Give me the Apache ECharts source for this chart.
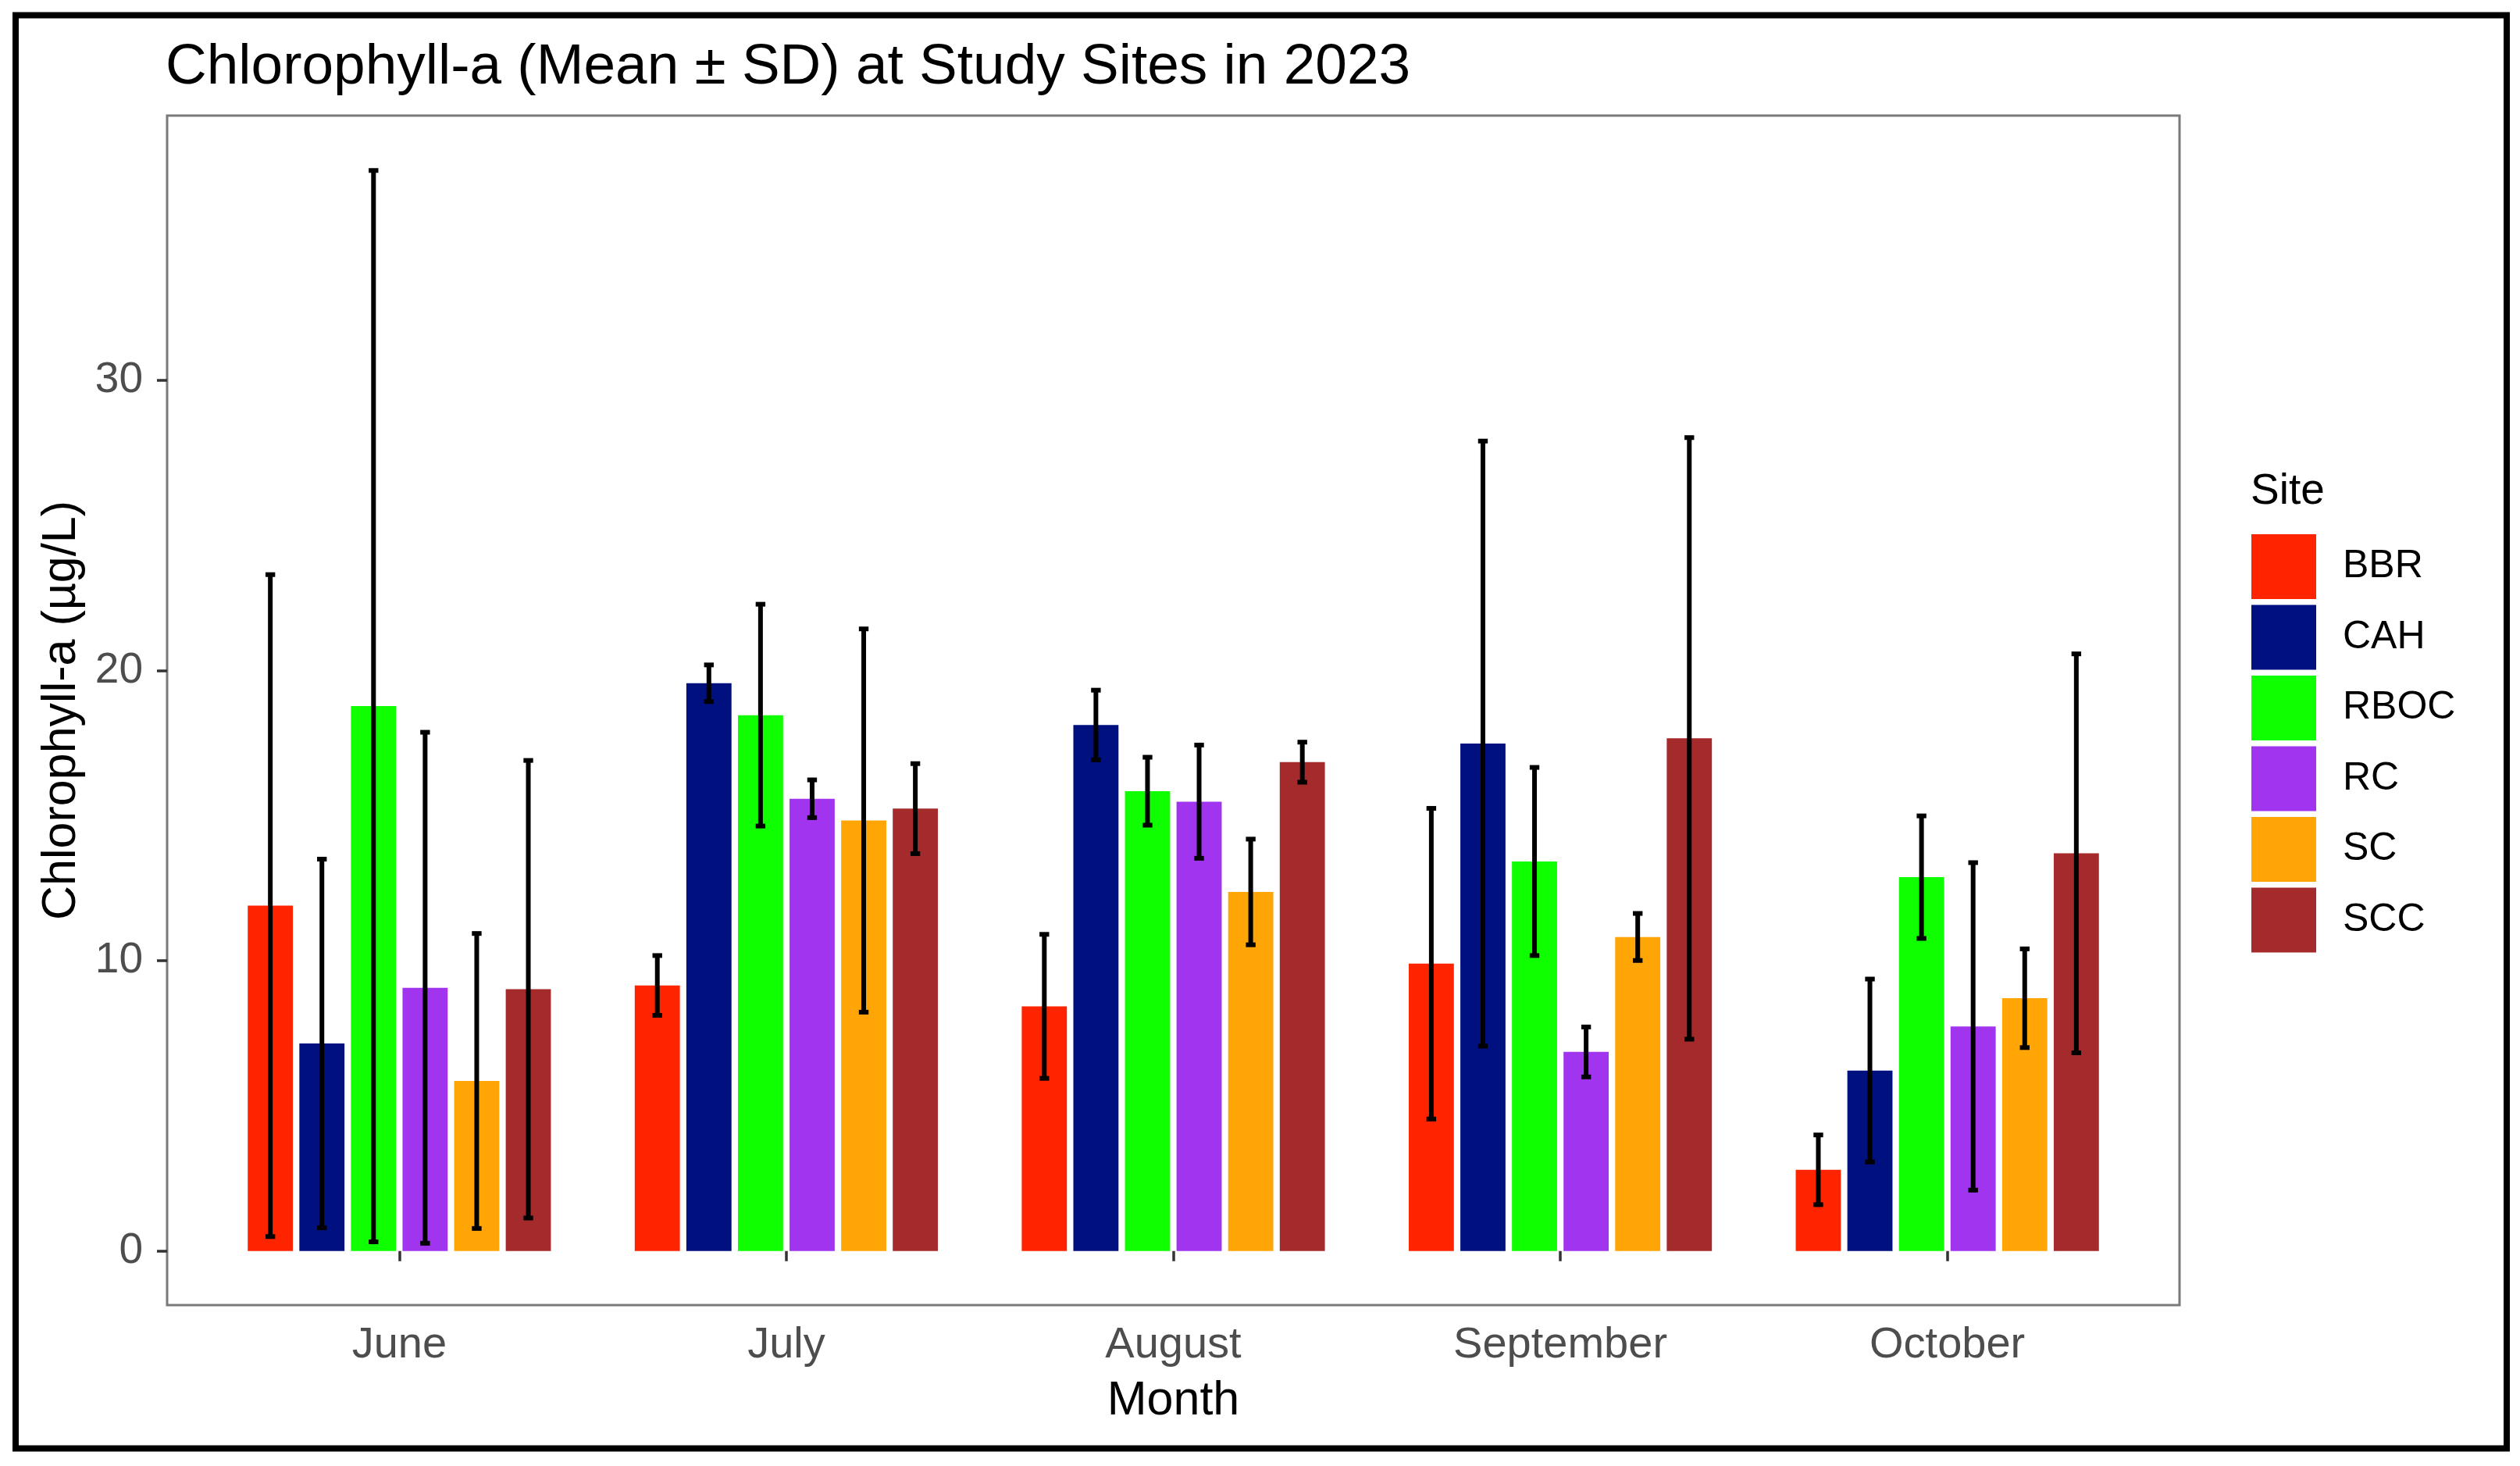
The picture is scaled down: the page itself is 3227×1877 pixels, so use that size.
<!DOCTYPE html>
<html>
<head>
<meta charset="utf-8">
<title>Chlorophyll-a at Study Sites 2023</title>
<script src="https://cdn.jsdelivr.net/npm/echarts@6/dist/echarts.min.js"></script>
<style>
  html, body { margin: 0; padding: 0; background: #fff; }
  #chart { width: 3227px; height: 1877px; }
</style>
</head>
<body>
<div id="chart"></div>
<script>
"use strict";

// data
const months = ["June", "July", "August", "September", "October"];
const sites = ["BBR", "CAH", "RBOC", "RC", "SC", "SCC"];
const siteColors = ["#FF2400", "#00117F", "#10FF00", "#A134EE", "#FFA505", "#A52A2C"];

const meanBBR  = [11.9, 9.15, 8.43, 9.9, 2.8];
const meanCAH  = [7.15, 19.56, 18.12, 17.48, 6.22];
const meanRBOC = [18.77, 18.46, 15.84, 13.42, 12.88];
const meanRC   = [9.07, 15.58, 15.48, 6.86, 7.74];
const meanSC   = [5.86, 14.83, 12.37, 10.82, 8.71];
const meanSCC  = [9.02, 15.24, 16.84, 17.66, 13.7];

const sdBBR  = [11.4, 1.03, 2.48, 5.35, 1.2];
const sdCAH  = [6.35, 0.63, 1.2, 10.42, 3.15];
const sdRBOC = [18.45, 3.82, 1.17, 3.24, 2.11];
const sdRC   = [8.8, 0.65, 1.95, 0.86, 5.64];
const sdSC   = [5.08, 6.6, 1.82, 0.81, 1.7];
const sdSCC  = [7.88, 1.55, 0.69, 10.36, 6.87];

const yTicks = [0, 10, 20, 30];

const means = [meanBBR, meanCAH, meanRBOC, meanRC, meanSC, meanSCC];
const sds = [sdBBR, sdCAH, sdRBOC, sdRC, sdSC, sdSCC];

const font = "Liberation Sans, Arial, Helvetica, sans-serif";

// panel box, ggplot style: categories sit at 1..n, panel runs 0.4 .. n+0.6
const panel = { left: 214, top: 148, width: 2577, height: 1523 };
const unit = panel.width / (months.length + 0.2);
const inner = { left: panel.left + 0.1 * unit, width: unit * months.length };

const dodge = 0.8;   // dodge width in band units
const barFrac = 0.7; // total bar width in band units

const barSeries = sites.map((site, i) => ({
  name: site,
  type: "bar",
  xAxisIndex: 0,
  yAxisIndex: 0,
  data: means[i],
  barWidth: (barFrac / sites.length * 100) + "%",
  barGap: ((dodge - barFrac) / barFrac * 100) + "%",
  itemStyle: { color: siteColors[i] },
  z: 2
}));

const errorSeries = sites.map((site, i) => ({
  name: site + " SD",
  type: "custom",
  xAxisIndex: 0,
  yAxisIndex: 0,
  z: 5,
  data: means[i].map((m, k) => [k, m - sds[i][k], m + sds[i][k]]),
  renderItem: (params, api) => {
    const k = api.value(0);
    const lo = api.coord([k, api.value(1)]);
    const hi = api.coord([k, api.value(2)]);
    const band = api.size([1, 0])[0];
    const cx = lo[0] + (i - (sites.length - 1) / 2) * band * dodge / sites.length;
    const half = band * 0.0125;
    const style = { stroke: "#000", lineWidth: 6 };
    return {
      type: "group",
      children: [
        { type: "line", shape: { x1: cx, y1: lo[1], x2: cx, y2: hi[1] }, style: style },
        { type: "line", shape: { x1: cx - half, y1: hi[1], x2: cx + half, y2: hi[1] }, style: style },
        { type: "line", shape: { x1: cx - half, y1: lo[1], x2: cx + half, y2: lo[1] }, style: style }
      ]
    };
  }
}));

const chart = echarts.init(document.getElementById("chart"), null, { renderer: "canvas" });

chart.setOption({
  animation: false,
  backgroundColor: "#fff",
  textStyle: { fontFamily: font },
  title: [
    {
      text: "Chlorophyll-a (Mean ± SD) at Study Sites in 2023",
      left: panel.left - 2,
      top: 50,
      padding: 0,
      textStyle: { fontFamily: font, fontSize: 73, fontWeight: "normal", color: "#000" }
    },
    {
      text: "Site",
      left: 2882,
      top: 602,
      padding: 0,
      textStyle: { fontFamily: font, fontSize: 55, fontWeight: "normal", color: "#000" }
    }
  ],
  legend: {
    data: sites,
    orient: "vertical",
    left: 2883,
    top: 684,
    padding: 0,
    icon: "rect",
    itemWidth: 83,
    itemHeight: 83,
    itemGap: 7.5,
    selectedMode: false,
    textStyle: { fontFamily: font, fontSize: 50, color: "#000", padding: [0, 0, 0, 29] }
  },
  grid: [
    {
      left: inner.left, top: panel.top, width: inner.width, height: panel.height,
      outerBoundsMode: "none",
      containLabel: false,
      show: false
    },
    {
      left: panel.left, top: panel.top, width: panel.width, height: panel.height,
      outerBoundsMode: "none",
      containLabel: false,
      show: true, backgroundColor: "#fff", borderColor: "#7a7a7a", borderWidth: 3, z: 0
    }
  ],
  xAxis: [
    {
      type: "category",
      gridIndex: 0,
      data: months,
      axisLine: { show: false },
      axisTick: { show: true, alignWithLabel: true, length: 13, lineStyle: { color: "#333", width: 3.5 } },
      axisLabel: { fontFamily: font, fontSize: 56, color: "#4d4d4d", margin: 24 },
      splitLine: { show: false }
    },
    { type: "value", gridIndex: 1, show: false }
  ],
  yAxis: [
    {
      type: "value",
      gridIndex: 0,
      min: -1.86,
      max: 39.11,
      offset: inner.left - panel.left,
      axisLine: { show: false },
      axisTick: { show: true, length: 13, customValues: yTicks, lineStyle: { color: "#333", width: 3.5 } },
      axisLabel: { fontFamily: font, fontSize: 55, color: "#4d4d4d", margin: 31, customValues: yTicks },
      splitLine: { show: false }
    },
    { type: "value", gridIndex: 1, show: false }
  ],
  graphic: [
    {
      type: "text",
      x: 79,
      y: panel.top + panel.height / 2,
      rotation: Math.PI / 2,
      style: {
        text: "Chlorophyll-a (µg/L)",
        fontFamily: font, fontSize: 61, fill: "#000",
        align: "center", verticalAlign: "middle"
      }
    },
    {
      type: "text",
      x: panel.left + panel.width / 2,
      y: 1794,
      style: {
        text: "Month",
        fontFamily: font, fontSize: 61, fill: "#000",
        align: "center", verticalAlign: "middle"
      }
    },
    {
      // outer frame round the whole figure
      type: "rect",
      shape: { x: 20, y: 19.5, width: 3190, height: 1835 },
      style: { fill: null, stroke: "#000", lineWidth: 8 },
      z: 100
    }
  ],
  series: barSeries.concat(errorSeries)
});
</script>
</body>
</html>
